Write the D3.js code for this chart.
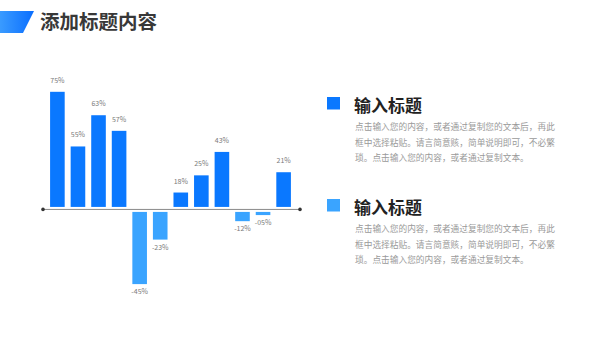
<!DOCTYPE html>
<html>
<head>
<meta charset="utf-8">
<script src="https://cdn.jsdelivr.net/npm/d3@7"></script>
<style>
  body { margin: 0; background: #fff; }
  svg { display: block; font-family: "Noto Sans CJK SC", "Noto Sans", sans-serif; }
</style>
</head>
<body>
<div id="chart"></div>
<script>
// data
var categories = ["1", "2", "3", "4", "5", "6", "7", "8", "9", "10", "11", "12"];
var values = [75, 40, 60, 50, -47.5, -19, 10.5, 21.5, 36.5, -7.2, -3.3, 23.5];   // bar heights as drawn
var labels = ["75%", "55%", "63%", "57%", "-45%", "-23%", "18%", "25%", "43%", "-12%", "-05%", "21%"];
var legendTitles = ["输入标题", "输入标题"];
var legendLines = [
  "点击输入您的内容，或者通过复制您的文本后，再此",
  "框中选择粘贴。请言简意赅，简单说明即可，不必繁",
  "琐。点击输入您的内容，或者通过复制文本。"
];

var W = 600, H = 338;
var posColor = "#0a78ff", negColor = "#3aa4ff";

var svg = d3.select("#chart").append("svg")
    .attr("width", W)
    .attr("height", H);

// title bar
var defs = svg.append("defs");
var grad = defs.append("linearGradient").attr("id", "tg")
    .attr("x1", "0%").attr("x2", "100%");
grad.append("stop").attr("offset", "0%").attr("stop-color", "#3a9bff");
grad.append("stop").attr("offset", "100%").attr("stop-color", "#0a6eff");

svg.append("path")
    .attr("d", "M0,11 L34,11 L23,33 L0,33 Z")
    .attr("fill", "url(#tg)");

svg.append("text")
    .attr("x", 40)
    .attr("y", 29)
    .attr("font-size", 19.5)
    .attr("font-weight", "bold")
    .attr("fill", "#383838")
    .text("添加标题内容");

// scales
var x = d3.scaleBand()
    .domain(categories)
    .range([47, 294])
    .paddingInner(0.29)
    .paddingOuter(0.15);

var y = d3.scaleLinear()
    .domain([-50, 80])
    .range([287, 84]);

var y0 = y(0);

// bars
svg.selectAll(".bar")
    .data(values)
    .enter()
    .append("rect")
    .attr("class", "bar")
    .attr("x", function(d, i) { return x(categories[i]); })
    .attr("width", x.bandwidth())
    .attr("y", function(d) { return d >= 0 ? y(d) : y0 + 3; })
    .attr("height", function(d) { return Math.max(1, Math.abs(y(d) - y0) - 2); })
    .attr("fill", function(d) { return d >= 0 ? posColor : negColor; });

// value labels
svg.selectAll(".lbl")
    .data(values)
    .enter()
    .append("text")
    .attr("class", "lbl")
    .attr("x", function(d, i) { return x(categories[i]) + x.bandwidth() / 2; })
    .attr("y", function(d) { return d >= 0 ? y(d) - 9 : y(d) + 11; })
    .attr("text-anchor", "middle")
    .attr("font-size", 7)
    .attr("fill", "#7a7a7a")
    .text(function(d, i) { return labels[i]; });

// zero line
svg.append("line")
    .attr("x1", 43).attr("x2", 300)
    .attr("y1", y0 + 0.5).attr("y2", y0 + 0.5)
    .attr("stroke", "#8a8a8a")
    .attr("stroke-width", 1);

svg.selectAll(".dot")
    .data([43, 300])
    .enter()
    .append("circle")
    .attr("cx", function(d) { return d; })
    .attr("cy", y0 + 0.5)
    .attr("r", 1.8)
    .attr("fill", "#333");

// legend blocks
var blockY = [97, 199];
var colors = [posColor, negColor];

blockY.forEach(function(by, k) {
  svg.append("rect")
      .attr("x", 327)
      .attr("y", by)
      .attr("width", 13)
      .attr("height", 12.5)
      .attr("fill", colors[k]);

  svg.append("text")
      .attr("x", 354)
      .attr("y", by + 15)
      .attr("font-size", 17)
      .attr("font-weight", "bold")
      .attr("fill", "#222")
      .text(legendTitles[k]);

  legendLines.forEach(function(line, j) {
    svg.append("text")
        .attr("x", 355)
        .attr("y", by + 33 + j * 15.5)
        .attr("font-size", 8.7)
        .attr("fill", "#9a9a9a")
        .text(line);
  });
});
</script>
</body>
</html>
